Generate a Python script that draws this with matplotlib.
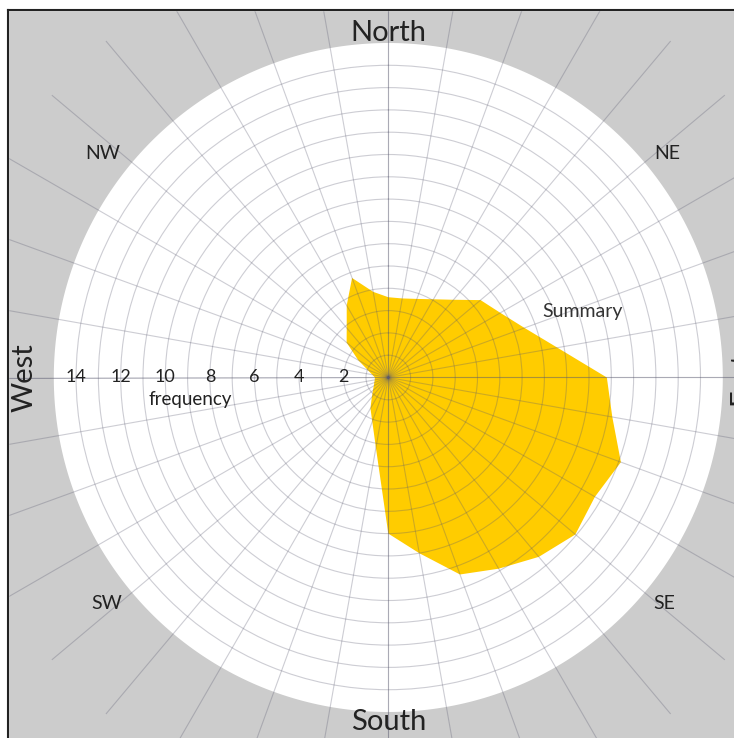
import numpy as np
import matplotlib.pyplot as plt
from matplotlib.patches import Rectangle
from matplotlib.lines import Line2D

plt.rcParams['font.family'] = ['Lato', 'DejaVu Sans']

# wind directions (degrees from north, clockwise) and summary frequency
directions = np.arange(0, 360, 10)
frequency = [3.6, 3.6, 3.75, 4.05, 4.55, 5.4, 5.8, 6.5, 7.7,
             9.8, 10.2, 11.1, 10.7, 10.95, 10.5, 9.9, 9.4, 8.0,
             7.0, 3.2, 2.1, 1.6, 1.15, 0.9, 0.75, 0.67, 0.62,
             0.6, 0.73, 0.98, 1.56, 2.44, 2.9, 3.73, 4.75, 3.9]

ring_values = np.arange(1, 15)
label_values = np.arange(2, 16, 2)
r_max = 15
r_outer = 19.7

cardinal = [('North', 0, 15.45, 0), ('South', 180, 15.45, 0),
            ('West', 270, 16.3, 90), ('East', 90, 15.84, 90)]
intercardinal = [('NE', 51.3, 16.05), ('SE', 129.4, 16.0),
                 ('SW', 231.3, 16.2), ('NW', 308.1, 16.25)]

fig = plt.figure(figsize=(7.34, 7.38), dpi=100, facecolor='#cccccc')

# centre of the rose in pixels and scale (px per unit)
cx, cy, scale = 388.3, 377.5, 22.3
rad_px = r_outer * scale
ax = fig.add_axes([(cx - rad_px) / 734, (738 - cy - rad_px) / 738,
                   2 * rad_px / 734, 2 * rad_px / 738], projection='polar')
ax.set_facecolor('none')
ax.set_theta_zero_location('N')
ax.set_theta_direction(-1)
ax.set_ylim(0, r_outer)
ax.spines['polar'].set_visible(False)

ax.set_xticks(np.radians(directions))
ax.set_xticklabels([])
ax.set_yticks(ring_values)
ax.set_yticklabels([])
ax.tick_params(length=0)
ax.grid(True, color='#5a5a70', alpha=0.3, linewidth=0.8)

# white disk
theta_fine = np.linspace(0, 2 * np.pi, 400)
ax.fill(theta_fine, np.full_like(theta_fine, r_max), color='white', lw=0, zorder=0.5)

# main axes a bit darker
for d in [0, 90, 180, 270]:
    ax.plot([np.radians(d)] * 2, [0, r_outer], color='#5a5a70', alpha=0.3,
            lw=0.8, zorder=1.6)

# summary polygon
theta_closed = np.radians(np.append(directions, directions[0]))
freq_closed = np.append(frequency, frequency[0])
ax.fill(theta_closed, freq_closed, color='#ffcc00', lw=0, zorder=1)

# radial labels along west
for v in label_values:
    ax.text(np.radians(270), v, str(v), ha='center', va='center',
            fontsize=13, color='#222222', zorder=3)
ax.text(np.radians(263.8), 8.95, 'frequency', ha='center', va='center',
        fontsize=13.5, color='#222222', zorder=3)
ax.text(np.radians(71.4), 9.21, 'Summary', ha='center', va='center',
        fontsize=14, color='#333333', zorder=3)

for name, ang, r, rot in cardinal:
    ax.text(np.radians(ang), r, name, ha='center', va='center', rotation=rot,
            fontsize=21, color='#222222', zorder=3)
for name, ang, r in intercardinal:
    ax.text(np.radians(ang), r, name, ha='center', va='center',
            fontsize=14, color='#222222', zorder=3)

# frame: white margin at top/left with dark border
top = 1 - 9.5 / 738
left = 8 / 734
fig.add_artist(Rectangle((0, top), 1, 1 - top, transform=fig.transFigure,
                         color='white', zorder=10))
fig.add_artist(Rectangle((0, 0), left, 1, transform=fig.transFigure,
                         color='white', zorder=10))
fig.add_artist(Line2D([left, 1], [top, top], transform=fig.transFigure,
                      color='#222222', lw=1.5, zorder=11))
fig.add_artist(Line2D([left, left], [0, top], transform=fig.transFigure,
                      color='#222222', lw=1.5, zorder=11))

fig.savefig('out.png', dpi=100)
